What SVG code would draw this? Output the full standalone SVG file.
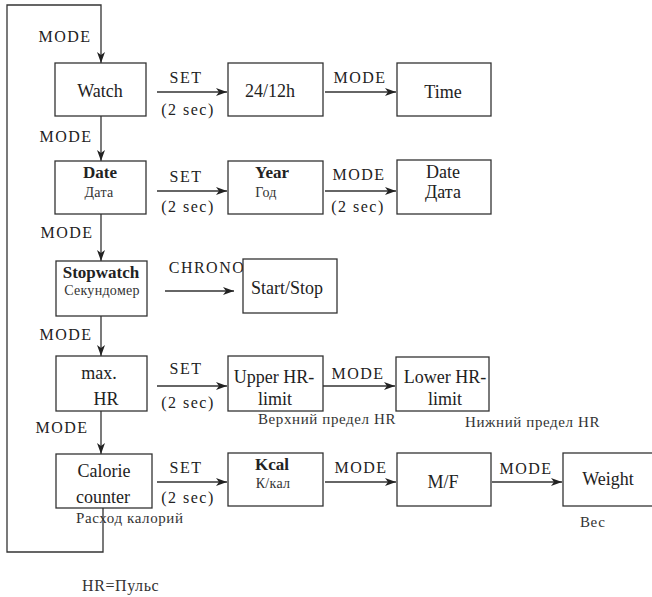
<svg xmlns="http://www.w3.org/2000/svg" width="652" height="597" viewBox="0 0 652 597">
<style>
.box{fill:#fff;stroke:#333;stroke-width:1.3}
.arr{fill:none;stroke:#333;stroke-width:1.3;marker-end:url(#ah)}
text{font-family:"Liberation Serif","Times New Roman",serif;fill:#222}
.lb{font-size:18px;text-anchor:middle}
.lbb{font-size:17px;font-weight:bold;text-anchor:middle}
.cl{font-size:16px;letter-spacing:1.5px;text-anchor:middle}
.ru{font-size:14px;text-anchor:middle;fill:#333;letter-spacing:0.3px}
.rs{font-size:15px;fill:#333;letter-spacing:0.6px}
</style>
<defs>
<marker id="ah" markerUnits="userSpaceOnUse" markerWidth="12" markerHeight="10" refX="11" refY="5" orient="auto">
<path d="M0,1 L11,5 L0,9 L3,5 Z" fill="#222"/>
</marker>
</defs>
<rect width="652" height="597" fill="#fff"/>
<g id="connectors">
<path class="arr" d="M103,508 V552 H7 V5 H101 V63"/>
<path class="arr" d="M101,116 V161"/>
<path class="arr" d="M101,214 V261"/>
<path class="arr" d="M101,316 V356"/>
<path class="arr" d="M101,411 V454"/>
<path class="arr" d="M157,92 H227"/>
<path class="arr" d="M325,92 H396"/>
<path class="arr" d="M157,191 H227"/>
<path class="arr" d="M325,191 H396"/>
<path class="arr" d="M165,291 H234"/>
<path class="arr" d="M157,386 H227"/>
<path class="arr" d="M323,386 H395"/>
<path class="arr" d="M157,482 H227"/>
<path class="arr" d="M325,482 H396"/>
<path class="arr" d="M492,482 H562"/>
<text class="cl" x="65" y="42">MODE</text>
<text class="cl" x="66" y="142">MODE</text>
<text class="cl" x="67" y="238">MODE</text>
<text class="cl" x="66" y="340">MODE</text>
<text class="cl" x="62" y="433">MODE</text>
<text class="cl" x="186" y="83">SET</text>
<text class="cl" x="188" y="115">(2 sec)</text>
<text class="cl" x="360" y="83">MODE</text>
<text class="cl" x="186" y="182">SET</text>
<text class="cl" x="188" y="212">(2 sec)</text>
<text class="cl" x="359" y="180">MODE</text>
<text class="cl" x="358" y="212">(2 sec)</text>
<text class="cl" x="207" y="273">CHRONO</text>
<text class="cl" x="186" y="374">SET</text>
<text class="cl" x="188" y="408">(2 sec)</text>
<text class="cl" x="358" y="379">MODE</text>
<text class="cl" x="186" y="473">SET</text>
<text class="cl" x="188" y="503">(2 sec)</text>
<text class="cl" x="361" y="473">MODE</text>
<text class="cl" x="526" y="474">MODE</text>
</g>
<g id="watch"><rect class="box" x="55" y="63" width="91" height="53"/><text class="lb" x="100" y="97">Watch</text></g>
<g id="h2412"><rect class="box" x="228" y="63" width="95" height="53"/><text class="lb" x="270" y="97">24/12h</text></g>
<g id="time"><rect class="box" x="397" y="63" width="94" height="53"/><text class="lb" x="443" y="98">Time</text></g>
<g id="date"><rect class="box" x="55" y="161" width="91" height="53"/><text class="lbb" x="100" y="178">Date</text><text class="ru" x="99" y="197">Дата</text></g>
<g id="year"><rect class="box" x="228" y="161" width="95" height="53"/><text class="lbb" x="272" y="178">Year</text><text class="ru" x="266" y="197">Год</text></g>
<g id="date2"><rect class="box" x="397" y="160" width="94" height="54"/><text class="lb" x="443" y="178">Date</text><text class="lb" x="443" y="198">Дата</text></g>
<g id="stopwatch"><rect class="box" x="56" y="261" width="91" height="55"/><text class="lbb" x="101" y="278">Stopwatch</text><text class="ru" x="102" y="295">Секундомер</text></g>
<g id="startstop"><rect class="box" x="243" y="259" width="94" height="54"/><text class="lb" x="287" y="294">Start/Stop</text></g>
<g id="maxhr"><rect class="box" x="56" y="356" width="91" height="55"/><text class="lb" x="99" y="379">max.</text><text class="lb" x="106" y="405">HR</text></g>
<g id="upperhr"><rect class="box" x="228" y="356" width="95" height="55"/><text class="lb" x="274" y="383">Upper HR-</text><text class="lb" x="275" y="405">limit</text><text class="rs" x="258" y="424">Верхний предел HR</text></g>
<g id="lowerhr"><rect class="box" x="396" y="357" width="93" height="54"/><text class="lb" x="445" y="383">Lower HR-</text><text class="lb" x="445" y="405">limit</text><text class="rs" x="465" y="427">Нижний предел HR</text></g>
<g id="calorie"><rect class="box" x="56" y="454" width="96" height="54"/><text class="lb" x="104" y="477">Calorie</text><text class="lb" x="103" y="503">counter</text><text class="rs" x="76" y="523">Расход калорий</text></g>
<g id="kcal"><rect class="box" x="228" y="453" width="95" height="53"/><text class="lbb" x="272" y="470">Kcal</text><text class="ru" x="273" y="488">К/кал</text></g>
<g id="mf"><rect class="box" x="397" y="453" width="94" height="53"/><text class="lb" x="443" y="488">M/F</text></g>
<g id="weight"><rect class="box" x="563" y="453" width="95" height="53"/><text class="lb" x="608" y="485">Weight</text><text class="rs" x="580" y="527">Вес</text></g>
<g id="note"><text class="rs" x="82" y="591" style="font-size:16px">HR=Пульс</text></g>
</svg>
